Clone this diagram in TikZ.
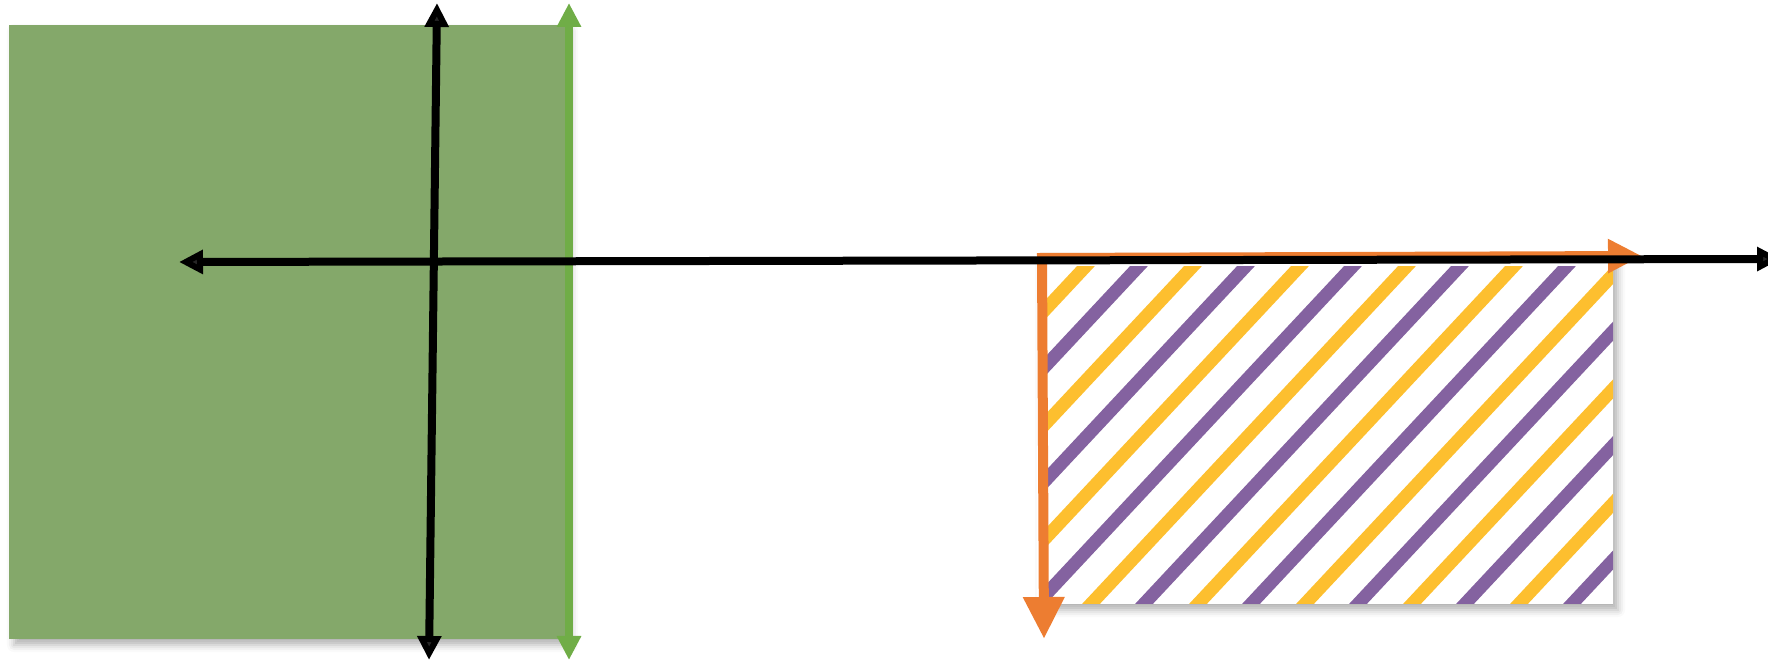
\documentclass[tikz,border=0pt]{standalone}
\usetikzlibrary{arrows.meta,shadows.blur}
\definecolor{fieldgreen}{HTML}{84A86A}
\definecolor{accgreen}{HTML}{70AD47}
\definecolor{accorange}{HTML}{ED7D31}
\definecolor{stripeyellow}{HTML}{FDBF2F}
\definecolor{stripepurple}{HTML}{8462A0}
\begin{document}
\begin{tikzpicture}[x=0.1mm, y=-0.1mm,
  shad/.style={blur shadow={shadow xshift=0.5mm, shadow yshift=-0.6mm,
    shadow blur radius=0.7mm, shadow opacity=30}},
  axis/.style={line width=0.8mm,
    {Triangle[length=2.4mm,width=2.3mm]}-{Triangle[length=2.4mm,width=2.3mm]}},
  stripe/.style={line width=1.3mm},
  oaxis/.style={accorange, line width=1mm, line join=miter,
    {Triangle[length=3.4mm,width=3.2mm]}-{Triangle[length=4.2mm,width=3.9mm]}}]
\useasboundingbox (0,0) rectangle (1768,664);
% end points of the arrows
\coordinate (vtop) at (437,3);   \coordinate (vbot) at (429,660);
\coordinate (hleft) at (179,262); \coordinate (hright) at (1781,259);
\coordinate (gtop) at (569,3);   \coordinate (gbot) at (569,660);
\coordinate (ocorner) at (1042,258);
\coordinate (oright) at (1642,256); \coordinate (odown) at (1044,639);
% green block
\fill[fieldgreen, shad] (9,25) rectangle (566,639);
\draw[axis, accgreen] (gtop) -- (gbot);
% striped block
\fill[white, shad] (1037,253) rectangle (1613,604);
\begin{scope}
\clip (1047,267) rectangle (1613,604);
\foreach \k in {-4,...,5} {
  \draw[stripe, stripeyellow] ({1061+107*\k},636) -- ({1436+107*\k},235);
  \draw[stripe, stripepurple] ({1114+107*\k},636) -- ({1489+107*\k},235);
}
\end{scope}
\draw[oaxis] (oright) -- (ocorner) -- (odown);
% black axes
\draw[axis] (hleft) -- (hright);
\draw[axis] (vtop) -- (vbot);
\end{tikzpicture}
\end{document}
